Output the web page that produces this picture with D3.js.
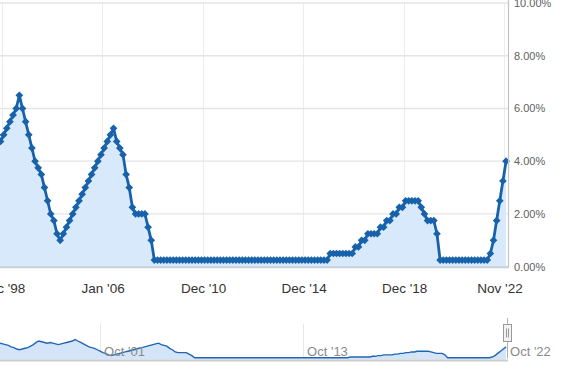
<!DOCTYPE html>
<html>
<head>
<meta charset="utf-8">
<script src="https://cdn.jsdelivr.net/npm/d3@7"></script>
<style>
  body { margin: 0; background: #fff; }
  svg { display: block; font-family: "Liberation Sans", Arial, sans-serif; }
</style>
</head>
<body>
<svg id="chart" width="563" height="371"></svg>
<script>
// rate at each point (ordinal axis, one entry per point), Sep '91 .. Nov '22
var rates = [
  5.25, 5.00, 4.75, 4.50, 4.00, 3.75, 3.25, 3.00, 3.25, 3.50, 3.75,
  4.25, 4.75, 5.50, 6.00, 5.75, 5.50, 5.25, 5.50, 5.25, 5.00,
  4.75, 5.00, 5.25, 5.50, 5.75, 6.00, 6.50,
  6.00, 5.50, 5.00, 4.50, 4.00, 3.75, 3.50, 3.00, 2.50, 2.00, 1.75, 1.25, 1.00,
  1.25, 1.50, 1.75, 2.00, 2.25, 2.50, 2.75, 3.00, 3.25, 3.50, 3.75, 4.00,
  4.25, 4.50, 4.75, 5.00, 5.25,
  4.75, 4.50, 4.25, 3.50, 3.00, 2.25, 2.00, 2.00, 2.00, 2.00, 1.50, 1.00,
  0.25, 0.25, 0.25, 0.25, 0.25, 0.25, 0.25, 0.25,
  0.25, 0.25, 0.25, 0.25, 0.25, 0.25, 0.25, 0.25,
  0.25, 0.25, 0.25, 0.25, 0.25, 0.25, 0.25, 0.25,
  0.25, 0.25, 0.25, 0.25, 0.25, 0.25, 0.25, 0.25,
  0.25, 0.25, 0.25, 0.25, 0.25, 0.25, 0.25, 0.25,
  0.25, 0.25, 0.25, 0.25, 0.25, 0.25, 0.25, 0.25,
  0.25, 0.25, 0.25, 0.25, 0.25, 0.25, 0.25, 0.25,
  0.50, 0.50, 0.50, 0.50, 0.50, 0.50, 0.50, 0.50,
  0.75, 0.75, 1.00, 1.00, 1.25, 1.25, 1.25, 1.25,
  1.50, 1.50, 1.75, 1.75, 2.00, 2.00, 2.25, 2.25,
  2.50, 2.50, 2.50, 2.50, 2.50,
  2.25, 2.00, 1.75, 1.75, 1.75, 1.25,
  0.25, 0.25, 0.25, 0.25, 0.25, 0.25, 0.25, 0.25,
  0.25, 0.25, 0.25, 0.25, 0.25, 0.25, 0.25, 0.25,
  0.50, 1.00, 1.75, 2.50, 3.25, 4.00
];

// visible range of the main chart (point index)
var viewStart = 20.84, viewEnd = 182.62;

var xTickIdx = [22, 54, 86, 118, 150, 182];
var xTickLabels = ["Dec '98", "Jan '06", "Dec '10", "Dec '14", "Dec '18", "Nov '22"];

var yTicks = [0, 2, 4, 6, 8, 10];

var navTickIdx = [36, 109, 182];
var navTickLabels = ["Oct '01", "Oct '13", "Oct '22"];

var svg = d3.select("#chart");
var data = rates.map(function (v, i) { return { i: i, v: v }; });

var plotW = 508, plotTop = 3, plotBottom = 266.7;

var x = d3.scaleLinear().domain([viewStart, viewEnd]).range([0, plotW]);
var y = d3.scaleLinear().domain([0, 10]).range([plotBottom, plotTop]);

// grid
var grid = svg.append("g");
grid.selectAll("line.v").data(xTickIdx).enter().append("line")
  .attr("x1", function (d) { return Math.round(x(d)) - 1.5; })
  .attr("x2", function (d) { return Math.round(x(d)) - 1.5; })
  .attr("y1", plotTop).attr("y2", plotBottom)
  .attr("stroke", "#ececec").attr("stroke-width", 1);
grid.selectAll("line.h").data(yTicks).enter().append("line")
  .attr("x1", 0).attr("x2", plotW)
  .attr("y1", function (d) { return y(d); })
  .attr("y2", function (d) { return y(d); })
  .attr("stroke", "#e4e4e4").attr("stroke-width", 1.3);

svg.append("defs").append("clipPath").attr("id", "clip")
  .append("rect").attr("x", 0).attr("y", 0).attr("width", plotW + 4).attr("height", 280);

var shown = data.filter(function (d) { return d.i >= viewStart - 2; });

var area = d3.area()
  .x(function (d) { return x(d.i); })
  .y0(y(0))
  .y1(function (d) { return y(d.v); });
var line = d3.line()
  .x(function (d) { return x(d.i); })
  .y(function (d) { return y(d.v); });

var series = svg.append("g").attr("clip-path", "url(#clip)");
series.append("path").datum(shown).attr("d", area).attr("fill", "#d8e9fc");
series.append("path").datum(shown).attr("d", line)
  .attr("fill", "none").attr("stroke", "#1762ab").attr("stroke-width", 2.8)
  .attr("stroke-linejoin", "round");

var diamond = d3.symbol().type(d3.symbolDiamond2).size(38);
series.selectAll("path.m").data(shown).enter().append("path")
  .attr("d", diamond)
  .attr("transform", function (d) { return "translate(" + x(d.i) + "," + y(d.v) + ")"; })
  .attr("fill", "#1762ab");

// axis lines
svg.append("line").attr("x1", 0).attr("x2", plotW)
  .attr("y1", plotBottom + 0.5).attr("y2", plotBottom + 0.5)
  .attr("stroke", "#c8d0dc").attr("stroke-width", 2);
svg.append("line").attr("x1", plotW + 0.5).attr("x2", plotW + 0.5)
  .attr("y1", 0).attr("y2", plotBottom + 1)
  .attr("stroke", "#c4c4c4").attr("stroke-width", 1.2);

// y labels on the right
svg.append("g").selectAll("text").data(yTicks).enter().append("text")
  .attr("x", 514).attr("y", function (d) { return y(d) + 4; })
  .attr("font-size", 11).attr("fill", "#606060")
  .text(function (d) { return d3.format(".2f")(d) + "%"; });

// x labels
svg.append("g").selectAll("text").data(xTickIdx).enter().append("text")
  .attr("x", function (d, k) { return x(d) - (k === xTickIdx.length - 1 ? 6 : 1); }).attr("y", 293)
  .attr("text-anchor", "middle").attr("font-size", 13.5).attr("fill", "#333")
  .text(function (d, k) { return xTickLabels[k]; });

// navigator
var navTop = 323.5, navBase = 358.5;
var nx = d3.scaleLinear().domain([0, 182.7]).range([0, plotW]);
var ny = d3.scaleLinear().domain([0, 12]).range([navBase, navTop]);

svg.append("g").selectAll("line").data(navTickIdx.slice(0, 2)).enter().append("line")
  .attr("x1", function (d) { return Math.round(nx(d)) + 0.5; })
  .attr("x2", function (d) { return Math.round(nx(d)) + 0.5; })
  .attr("y1", navTop).attr("y2", navBase)
  .attr("stroke", "#e6e6e6");

svg.append("path").datum(data)
  .attr("d", d3.area().x(function (d) { return nx(d.i); }).y0(navBase + 1)
    .y1(function (d) { return ny(d.v); }))
  .attr("fill", "#d4e5fa");
svg.append("path").datum(data)
  .attr("d", d3.line().x(function (d) { return nx(d.i); }).y(function (d) { return ny(d.v); }))
  .attr("fill", "none").attr("stroke", "#2166b3").attr("stroke-width", 1.4);

svg.append("line").attr("x1", 0).attr("x2", plotW)
  .attr("y1", 360.5).attr("y2", 360.5)
  .attr("stroke", "#cccccc").attr("stroke-width", 2);

svg.append("g").selectAll("text").data(navTickIdx).enter().append("text")
  .attr("x", function (d) { return nx(d) + 4; }).attr("y", 356)
  .attr("font-size", 13).attr("fill", "#8a8a8a")
  .text(function (d, k) { return navTickLabels[k]; });

// right handle of the navigator range
var hx = nx(viewEnd);
svg.append("line").attr("x1", Math.round(hx) - 0.5).attr("x2", Math.round(hx) - 0.5)
  .attr("y1", 318).attr("y2", navBase)
  .attr("stroke", "#b0b0b0");
var handle = svg.append("g").attr("transform", "translate(" + (Math.round(hx) - 4.5) + ",324.5)");
handle.append("rect").attr("width", 8).attr("height", 17)
  .attr("fill", "#f2f2f2").attr("stroke", "#999");
handle.append("line").attr("x1", 3).attr("x2", 3).attr("y1", 4).attr("y2", 13).attr("stroke", "#999");
handle.append("line").attr("x1", 5).attr("x2", 5).attr("y1", 4).attr("y2", 13).attr("stroke", "#999");
</script>
</body>
</html>
